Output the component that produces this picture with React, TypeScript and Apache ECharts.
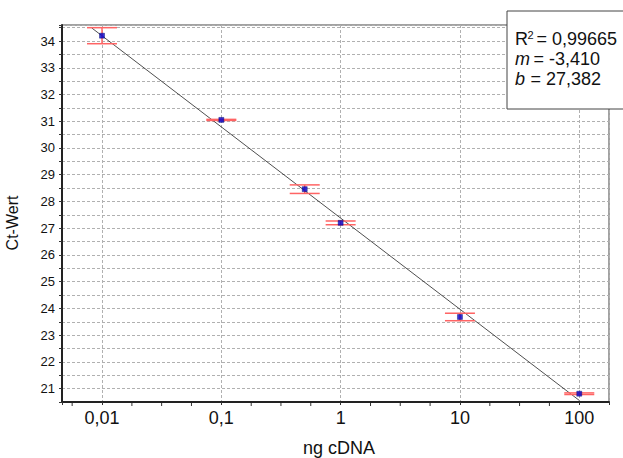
import React, { useEffect, useRef } from 'react';
import * as echarts from 'echarts';

// ---- data ----
const concentrations = [0.01, 0.1, 0.5, 1, 10, 100];
const ctMeans = [34.2, 31.05, 28.46, 27.2, 23.68, 20.81];
const ctErrors = [0.3, 0.02, 0.16, 0.07, 0.14, 0.03];
const fitX = [0.0082, 100];
const fitY = [34.49, 20.56];
const xTickLabels: Record<string, string> = { '0.01': '0,01', '0.1': '0,1', '1': '1', '10': '10', '100': '100' };
const minorTickX = [0.00562, 0.0178, 0.0316, 0.0562, 0.178, 0.316, 0.562, 1.78, 3.16, 5.62, 17.8, 31.6, 56.2];
const statR2 = '0,99665';
const statM = '-3,410';
const statB = '27,382';

const FONT = '"Liberation Sans", Arial, Helvetica, sans-serif';

export default function App() {
  const ref = useRef<HTMLDivElement>(null);
  useEffect(() => {
    if (!ref.current) return;
    const chart = echarts.init(ref.current, null, { renderer: 'svg' });
    const option: any = {
      animation: false,
      backgroundColor: '#fff',
      textStyle: { fontFamily: FONT },
      grid: {
        left: 62, top: 25, right: 14, bottom: 56,
        show: true, backgroundColor: '#fff', borderColor: '#444', borderWidth: 1,
      },
      xAxis: {
        type: 'log',
        logBase: 10,
        min: 0.00462,
        max: 177.5,
        axisLine: { show: true, lineStyle: { color: '#222', width: 2 } },
        axisTick: { show: true, length: 3, lineStyle: { color: '#333' } },
        axisLabel: {
          fontSize: 18, color: '#111', fontFamily: FONT, margin: 7,
          formatter: (v: number) => xTickLabels[String(v)] ?? '',
        },
        splitLine: { show: true, lineStyle: { color: '#b0b0b0', type: [3, 2], width: 1 } },
      },
      yAxis: {
        type: 'value',
        min: 20.5,
        max: 34.6,
        interval: 0.5,
        axisLine: { show: true, lineStyle: { color: '#222', width: 2 } },
        axisTick: { show: true, length: 3, lineStyle: { color: '#333' } },
        axisLabel: {
          fontSize: 13, color: '#111', fontFamily: FONT, margin: 7,
          formatter: (v: number) => (Math.abs(v - Math.round(v)) < 1e-6 ? String(Math.round(v)) : ''),
        },
        splitLine: { show: true, lineStyle: { color: '#b0b0b0', type: [3, 2], width: 1 } },
      },
      series: [
        {
          type: 'line',
          data: fitX.map((x, i) => [x, fitY[i]]),
          symbol: 'none',
          lineStyle: { color: '#222', width: 0.8 },
          z: 3,
          silent: true,
        },
        {
          type: 'custom',
          data: concentrations.map((x, i) => [x, ctMeans[i] - ctErrors[i], ctMeans[i] + ctErrors[i]]),
          encode: { x: 0, y: [1, 2] },
          z: 4,
          silent: true,
          renderItem: (params: any, api: any) => {
            const x = api.value(0);
            const pLo = api.coord([x, api.value(1)]);
            const pHi = api.coord([x, api.value(2)]);
            const hw = 15;
            const style = { stroke: '#ff6464', lineWidth: 1.5 };
            return {
              type: 'group',
              children: [
                { type: 'line', shape: { x1: pLo[0], y1: pLo[1], x2: pHi[0], y2: pHi[1] }, style },
                { type: 'line', shape: { x1: pLo[0] - hw, y1: pLo[1], x2: pLo[0] + hw, y2: pLo[1] }, style },
                { type: 'line', shape: { x1: pHi[0] - hw, y1: pHi[1], x2: pHi[0] + hw, y2: pHi[1] }, style },
              ],
            };
          },
        },
        {
          type: 'scatter',
          data: concentrations.map((x, i) => [x, ctMeans[i]]),
          symbol: 'rect',
          symbolSize: 5,
          itemStyle: { color: '#0000cc', borderColor: '#000066', borderWidth: 0.5 },
          z: 5,
          silent: true,
        },
        {
          type: 'custom',
          data: minorTickX.map((x) => [x, 20.5]),
          encode: { x: 0, y: 1 },
          clip: false,
          silent: true,
          z: 6,
          renderItem: (params: any, api: any) => {
            const p = api.coord([api.value(0), api.value(1)]);
            return {
              type: 'line',
              shape: { x1: p[0], y1: p[1] + 1, x2: p[0], y2: p[1] + 4 },
              style: { stroke: '#333', lineWidth: 1 },
            };
          },
        },
      ],
      graphic: [
        {
          type: 'text', x: 12.5, y: 223, rotation: Math.PI / 2, z: 10,
          style: { text: 'Ct-Wert', fontSize: 16, fontFamily: FONT, fill: '#111', align: 'center', verticalAlign: 'middle' },
        },
        {
          type: 'text', x: 339, y: 448, z: 10,
          style: { text: 'ng cDNA', fontSize: 18, fontFamily: FONT, fill: '#111', align: 'center', verticalAlign: 'middle' },
        },
        {
          type: 'rect', z: 20,
          shape: { x: 507, y: 11, width: 130, height: 98 },
          style: { fill: '#fff', stroke: '#444', lineWidth: 1 },
        },
        {
          type: 'text', x: 515, y: 38.5, z: 21,
          style: { text: 'R', fontSize: 18, fontFamily: FONT, fill: '#111', align: 'left', verticalAlign: 'middle' },
        },
        {
          type: 'text', x: 527.5, y: 35, z: 21,
          style: { text: '2', fontSize: 11, fontFamily: FONT, fill: '#111', align: 'left', verticalAlign: 'middle' },
        },
        {
          type: 'text', x: 536.5, y: 38.5, z: 21,
          style: { text: '= ' + statR2, fontSize: 18, fontFamily: FONT, fill: '#111', align: 'left', verticalAlign: 'middle' },
        },
        {
          type: 'text', x: 515, y: 58.5, z: 21,
          style: { text: 'm', fontSize: 18, fontStyle: 'italic', fontFamily: FONT, fill: '#111', align: 'left', verticalAlign: 'middle' },
        },
        {
          type: 'text', x: 533.5, y: 58.5, z: 21,
          style: { text: '= ' + statM, fontSize: 18, fontFamily: FONT, fill: '#111', align: 'left', verticalAlign: 'middle' },
        },
        {
          type: 'text', x: 515, y: 78.5, z: 21,
          style: { text: 'b', fontSize: 18, fontStyle: 'italic', fontFamily: FONT, fill: '#111', align: 'left', verticalAlign: 'middle' },
        },
        {
          type: 'text', x: 530.5, y: 78.5, z: 21,
          style: { text: '= ' + statB, fontSize: 18, fontFamily: FONT, fill: '#111', align: 'left', verticalAlign: 'middle' },
        },
      ],
    };
    chart.setOption(option);
    return () => chart.dispose();
  }, []);
  return <div ref={ref} style={{ width: 623, height: 458, position: 'absolute', left: 0, top: 0 }} />;
}
